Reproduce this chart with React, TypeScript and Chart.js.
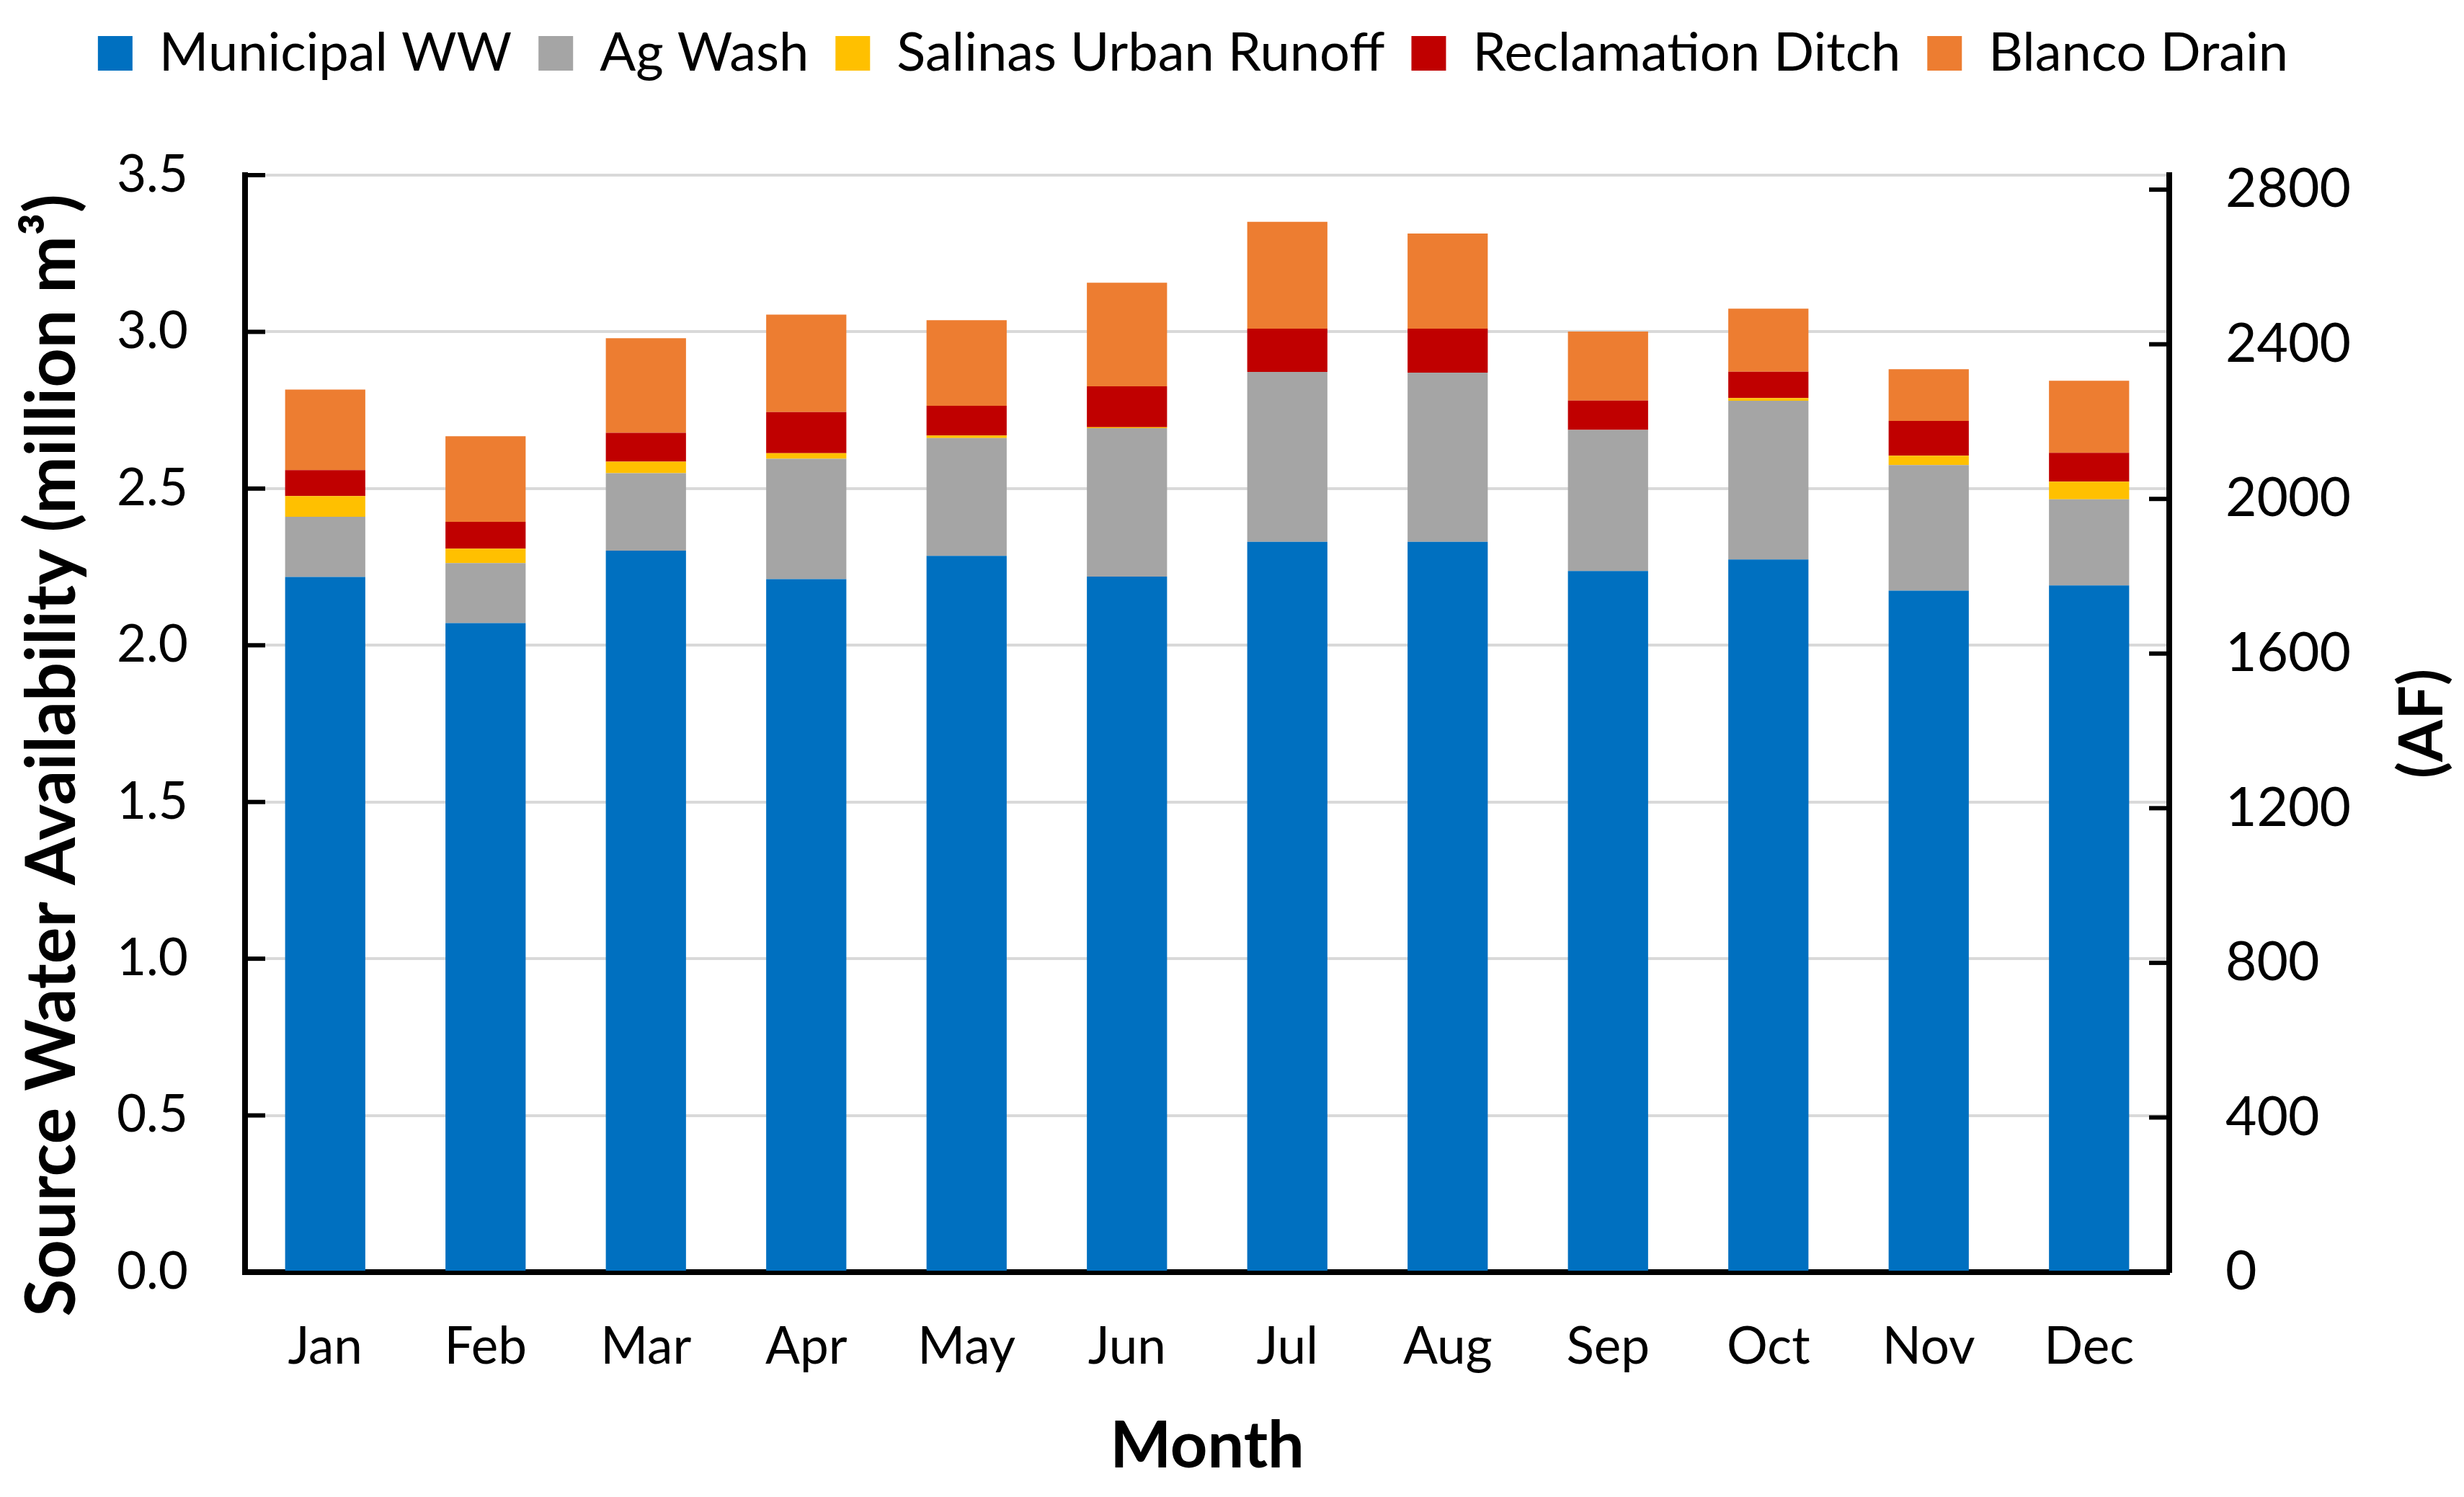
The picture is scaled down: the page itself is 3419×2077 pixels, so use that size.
import React, { useEffect, useRef } from "react";
import { Chart, registerables } from "chart.js";

Chart.register(...registerables);

// ---------- data ----------
const months = ["Jan", "Feb", "Mar", "Apr", "May", "Jun", "Jul", "Aug", "Sep", "Oct", "Nov", "Dec"];
const municipalWW = [2.218, 2.071, 2.302, 2.211, 2.285, 2.219, 2.33, 2.33, 2.237, 2.274, 2.174, 2.191];
const agWash = [0.192, 0.191, 0.247, 0.384, 0.376, 0.474, 0.542, 0.54, 0.45, 0.506, 0.401, 0.275];
const salinasUrbanRunoff = [0.066, 0.046, 0.037, 0.018, 0.008, 0.003, 0.0, 0.0, 0.0, 0.009, 0.03, 0.056];
const reclamationDitch = [0.083, 0.086, 0.092, 0.131, 0.095, 0.13, 0.138, 0.14, 0.094, 0.084, 0.111, 0.092];
const blancoDrain = [0.257, 0.273, 0.302, 0.311, 0.273, 0.331, 0.341, 0.304, 0.22, 0.201, 0.165, 0.23];

const seriesNames = ["Municipal WW", "Ag Wash", "Salinas Urban Runoff", "Reclamation Ditch", "Blanco Drain"];
const seriesColors = ["#0070C0", "#A5A5A5", "#FFC000", "#C00000", "#ED7D31"];

const leftMax = 3.5;
const leftStep = 0.5;
const rightTicks = [0, 400, 800, 1200, 1600, 2000, 2400, 2800];
const millionM3PerAF = 0.00123348; // 1 acre-foot in million m3

const leftTitle = "Source Water Availability (million m\u00B3)";
const rightTitle = "(AF)";
const xTitle = "Month";

const W = 3419;
const H = 2077;
const FONT = "Lato, 'Open Sans', sans-serif";
const LEGEND_SIZE = 74;
const LEGEND_PAD = 37;

const axisDecor = {
  id: "axisDecor",
  afterDraw(chart: any) {
    const { ctx, chartArea } = chart;
    const y = chart.scales.y;
    const y2 = chart.scales.y2;
    ctx.save();
    ctx.strokeStyle = "#000";
    ctx.lineWidth = 6;
    ctx.lineCap = "butt";
    y.ticks.forEach((t: any) => {
      const p = y.getPixelForValue(t.value);
      ctx.beginPath();
      ctx.moveTo(chartArea.left, p);
      ctx.lineTo(chartArea.left + 28, p);
      ctx.stroke();
    });
    y2.ticks.forEach((t: any) => {
      const p = y2.getPixelForValue(t.value);
      ctx.beginPath();
      ctx.moveTo(chartArea.right - 28, p);
      ctx.lineTo(chartArea.right, p);
      ctx.stroke();
    });
    ctx.fillStyle = "#000";
    ctx.textAlign = "center";
    ctx.textBaseline = "middle";
    const midY = (chartArea.top + chartArea.bottom) / 2;
    // left title
    ctx.save();
    ctx.font = `bold 95px ${FONT}`;
    ctx.translate(73, midY + 44);
    ctx.rotate(-Math.PI / 2);
    ctx.fillText(leftTitle, 0, 0);
    ctx.restore();
    // right title
    ctx.save();
    ctx.font = `bold 84px ${FONT}`;
    ctx.translate(chartArea.right + 352, midY);
    ctx.rotate(-Math.PI / 2);
    ctx.fillText(rightTitle, 0, 0);
    ctx.restore();
    ctx.restore();
  },
};

export default function App() {
  const ref = useRef<HTMLCanvasElement | null>(null);

  useEffect(() => {
    document.body.style.margin = "0";
    const canvas = ref.current;
    if (!canvas) return;
    const values = [municipalWW, agWash, salinasUrbanRunoff, reclamationDitch, blancoDrain];
    const chart = new Chart(canvas, {
      type: "bar",
      data: {
        labels: months,
        datasets: values.map((v, i) => ({
          label: seriesNames[i],
          data: v,
          backgroundColor: seriesColors[i],
          borderWidth: 0,
          xAxisID: "x",
          yAxisID: "y",
          categoryPercentage: 0.5,
          barPercentage: 1.0,
        })),
      },
      options: {
        responsive: false,
        animation: false,
        devicePixelRatio: 1,
        layout: { padding: { left: 0, right: 108, top: 0, bottom: 0 } },
        plugins: {
          legend: {
            display: true,
            position: "top",
            labels: {
              boxWidth: 48,
              boxHeight: 48,
              padding: LEGEND_PAD,
              color: "#000",
              font: { family: FONT, size: LEGEND_SIZE },
            },
          },
          tooltip: { enabled: false },
        },
        scales: {
          x: {
            type: "category",
            position: "bottom",
            stacked: true,
            grid: { display: false, drawTicks: false },
            border: { display: true, color: "#000", width: 8 },
            ticks: { color: "#000", padding: 62, font: { family: FONT, size: 71 } },
            title: {
              display: true,
              text: xTitle,
              color: "#000",
              font: { family: FONT, size: 90, weight: "bold", lineHeight: 1 },
              padding: { top: 0, bottom: 25 },
            },
            afterFit: (s: any) => {
              s.height = 312;
            },
          },
          spacer: {
            type: "category",
            position: "top",
            display: true,
            grid: { display: false, drawTicks: false },
            border: { display: false },
            ticks: { display: false },
            afterFit: (s: any) => {
              s.height = 243 - (LEGEND_SIZE + LEGEND_PAD + 10);
            },
          },
          y: {
            type: "linear",
            position: "left",
            stacked: true,
            min: 0,
            max: leftMax,
            grid: { color: "#D9D9D9", lineWidth: 4, drawTicks: false },
            border: { display: true, color: "#000", width: 8 },
            ticks: {
              stepSize: leftStep,
              color: "#000",
              padding: 79,
              font: { family: FONT, size: 71 },
              callback: (v: any) => Number(v).toFixed(1),
            },
            afterFit: (s: any) => {
              s.width = 340;
            },
          },
          y2: {
            type: "linear",
            position: "right",
            min: 0,
            max: leftMax / millionM3PerAF,
            grid: { drawOnChartArea: false, drawTicks: false },
            border: { display: true, color: "#000", width: 8 },
            afterBuildTicks: (s: any) => {
              s.ticks = rightTicks.map((v) => ({ value: v }));
            },
            ticks: {
              color: "#000",
              padding: 78,
              font: { family: FONT, size: 75 },
              callback: (v: any) => String(Math.round(Number(v))),
            },
            afterFit: (s: any) => {
              s.width = 301;
            },
          },
        },
      } as any,
      plugins: [axisDecor],
    });
    return () => chart.destroy();
  }, []);

  return (
    <div style={{ width: W, height: H, background: "#fff" }}>
      <canvas ref={ref} width={W} height={H} style={{ display: "block", width: W, height: H }} />
    </div>
  );
}
